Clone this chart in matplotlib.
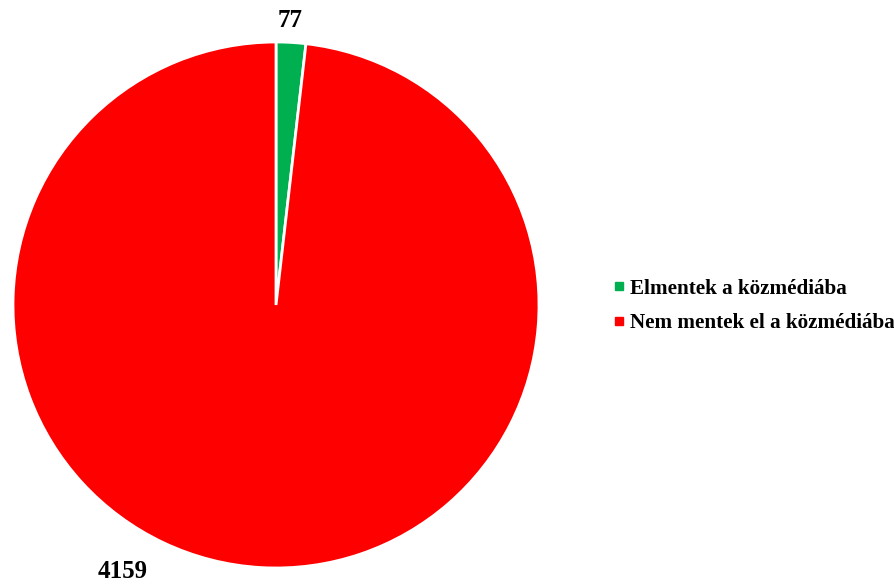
import matplotlib.pyplot as plt
from matplotlib.lines import Line2D

labels = ['Elmentek a közmédiába', 'Nem mentek el a közmédiába']
values = [77, 4159]
colors = ['#00B050', '#FF0000']
label_pos = [(0.053, 1.08), (-0.585, -1.015)]

plt.rcParams['font.family'] = ['Liberation Serif', 'DejaVu Serif']

fig = plt.figure(figsize=(8.95, 5.86), dpi=100)
ax = fig.add_axes([13 / 895, 18 / 586, 526 / 895, 526 / 586])
ax.pie(values, colors=colors, startangle=90, counterclock=False,
       wedgeprops=dict(edgecolor='white', linewidth=2), radius=1)
ax.set_xlim(-1, 1)
ax.set_ylim(-1, 1)
ax.set_aspect('equal')
ax.axis('off')

for v, (x, y) in zip(values, label_pos):
    ax.text(x, y, str(v), ha='center', va='center', fontsize=18,
            fontweight='bold', clip_on=False)

handles = [Line2D([], [], marker='s', linestyle='none', markersize=6,
                  markerfacecolor=c, markeredgecolor=c) for c in colors]
fig.legend(handles, labels, loc='center left', bbox_to_anchor=(602 / 895, 1 - 306 / 586),
           frameon=False, prop=dict(size=15.2, weight='bold'),
           handlelength=0.6, handletextpad=0.25, labelspacing=0.7, borderpad=0)

fig.savefig('out.png', dpi=100)
